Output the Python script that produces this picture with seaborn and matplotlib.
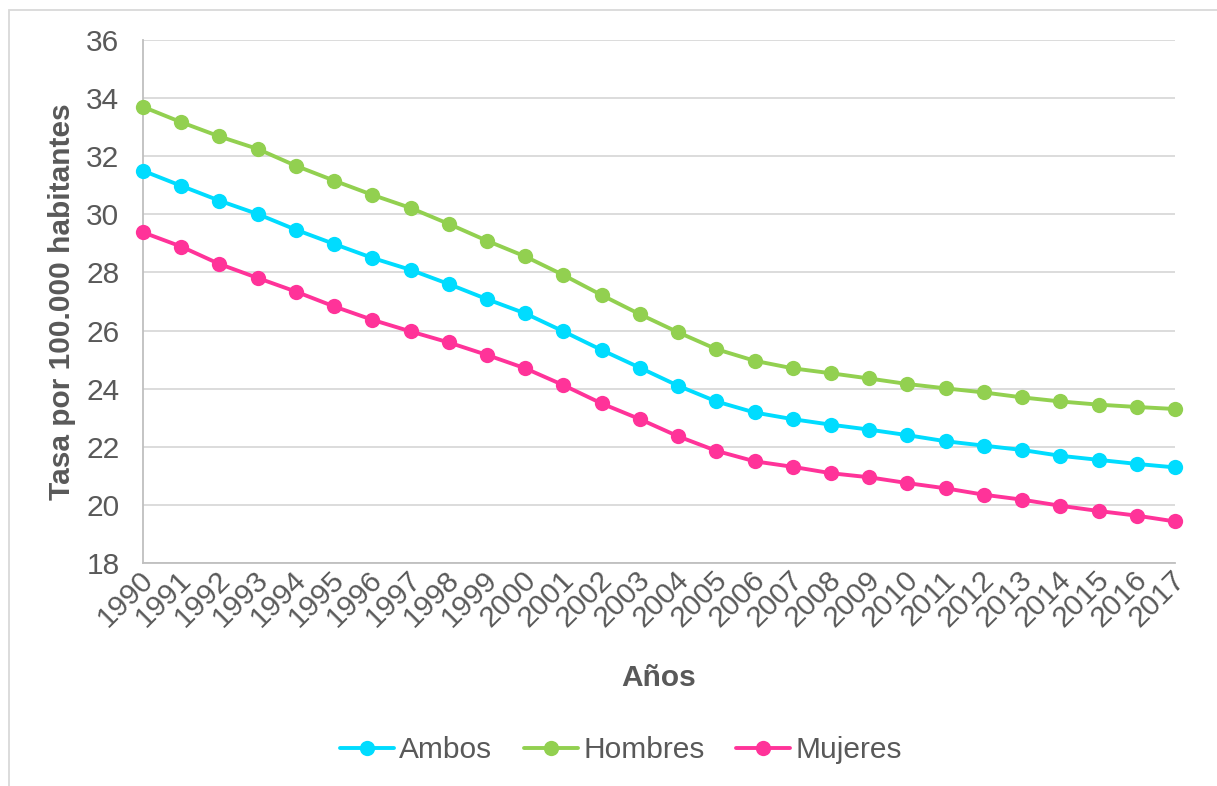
import matplotlib
matplotlib.use("Agg")
import matplotlib.pyplot as plt
import matplotlib.patches as mpatches
import matplotlib.transforms as mtransforms
from matplotlib.lines import Line2D
import pandas as pd
import seaborn as sns

# Data: mortality rate per 100,000 inhabitants, 1990-2017
years = list(range(1990, 2018))
ambos = [31.50, 30.98, 30.47, 30.01, 29.47, 28.98, 28.50, 28.09, 27.60, 27.08,
         26.59, 25.97, 25.33, 24.72, 24.10, 23.56, 23.18, 22.95, 22.76, 22.59,
         22.40, 22.19, 22.04, 21.89, 21.69, 21.55, 21.41, 21.29]
hombres = [33.70, 33.17, 32.68, 32.25, 31.67, 31.16, 30.67, 30.22, 29.67, 29.09,
           28.55, 27.91, 27.22, 26.56, 25.94, 25.36, 24.96, 24.70, 24.53, 24.35,
           24.16, 24.01, 23.87, 23.70, 23.56, 23.45, 23.37, 23.30]
mujeres = [29.38, 28.89, 28.29, 27.81, 27.34, 26.83, 26.37, 25.97, 25.59, 25.16,
           24.70, 24.12, 23.49, 22.95, 22.36, 21.86, 21.50, 21.31, 21.09, 20.95,
           20.75, 20.57, 20.35, 20.18, 19.97, 19.79, 19.63, 19.43]
series_names = ["Ambos", "Hombres", "Mujeres"]
colors = {"Ambos": "#00DCFF", "Hombres": "#92D050", "Mujeres": "#FF3399"}
y_ticks = list(range(18, 37, 2))

df = pd.DataFrame({
    "Año": years * 3,
    "Tasa": ambos + hombres + mujeres,
    "Serie": [s for s in series_names for _ in years],
})

sns.set_theme(style="white")
plt.rcParams["font.family"] = ["Liberation Sans", "DejaVu Sans"]

text_color = "#595959"
fs = 21.5
lw = 2.8
ms = 11

fig = plt.figure(figsize=(12.17, 7.86), dpi=100)
ax = fig.add_axes([143 / 1217, 1 - 563 / 786, (1175 - 143) / 1217, (563 - 40) / 786])

sns.lineplot(data=df, x="Año", y="Tasa", hue="Serie", hue_order=series_names,
             palette=colors, marker="o", markersize=ms, markeredgewidth=0,
             linewidth=lw, legend=False, ax=ax, clip_on=False, zorder=3)

ax.set_xlim(1990, 2017)
ax.set_ylim(18, 36)
ax.set_yticks(y_ticks)
ax.set_xticks(years)
ax.set_xticklabels([str(y) for y in years], rotation=45, ha="right",
                   rotation_mode="anchor", va="center")
ax.tick_params(axis="both", length=0, labelsize=fs, labelcolor=text_color)
ax.tick_params(axis="y", pad=17)
ax.tick_params(axis="x", pad=9)

# nudge rotated year labels slightly to the right
shift = mtransforms.ScaledTranslation(6 / 100, 0, fig.dpi_scale_trans)
for lbl in ax.get_xticklabels():
    lbl.set_transform(lbl.get_transform() + shift)

ax.grid(axis="y", color="#D9D9D9", linewidth=1.3)
ax.grid(axis="x", visible=False)
for side in ["top", "right"]:
    ax.spines[side].set_visible(False)
for side in ["bottom", "left"]:
    ax.spines[side].set_color("#BFBFBF")
    ax.spines[side].set_linewidth(1.3)

ax.set_xlabel("Años", fontsize=fs, fontweight="bold", color=text_color, va="center")
ax.set_ylabel("Tasa por 100.000 habitantes", fontsize=fs, fontweight="bold",
              color=text_color, va="center")
ax.xaxis.set_label_coords(0.5, -(678 - 563) / 523, transform=ax.transAxes)
ax.yaxis.set_label_coords(-(143 - 62) / 1032, 0.5, transform=ax.transAxes)

# Legend below the chart
handles = [Line2D([0], [0], color=colors[s], linewidth=lw, marker="o",
                  markersize=ms, markeredgewidth=0) for s in series_names]
leg = fig.legend(handles, series_names, loc="center", ncol=3,
                 bbox_to_anchor=(621 / 1217, 1 - 750 / 786), frameon=False,
                 fontsize=fs, handlelength=1.8, handletextpad=0.17,
                 columnspacing=1.07)
for t in leg.get_texts():
    t.set_color(text_color)

# Chart area border
fig.patches.append(mpatches.Rectangle((9 / 1217, -0.1), 1.2, 1 - 10 / 786 + 0.1,
                                      transform=fig.transFigure, fill=False,
                                      edgecolor="#D9D9D9", linewidth=1.3))

fig.savefig("out.png", dpi=100)
